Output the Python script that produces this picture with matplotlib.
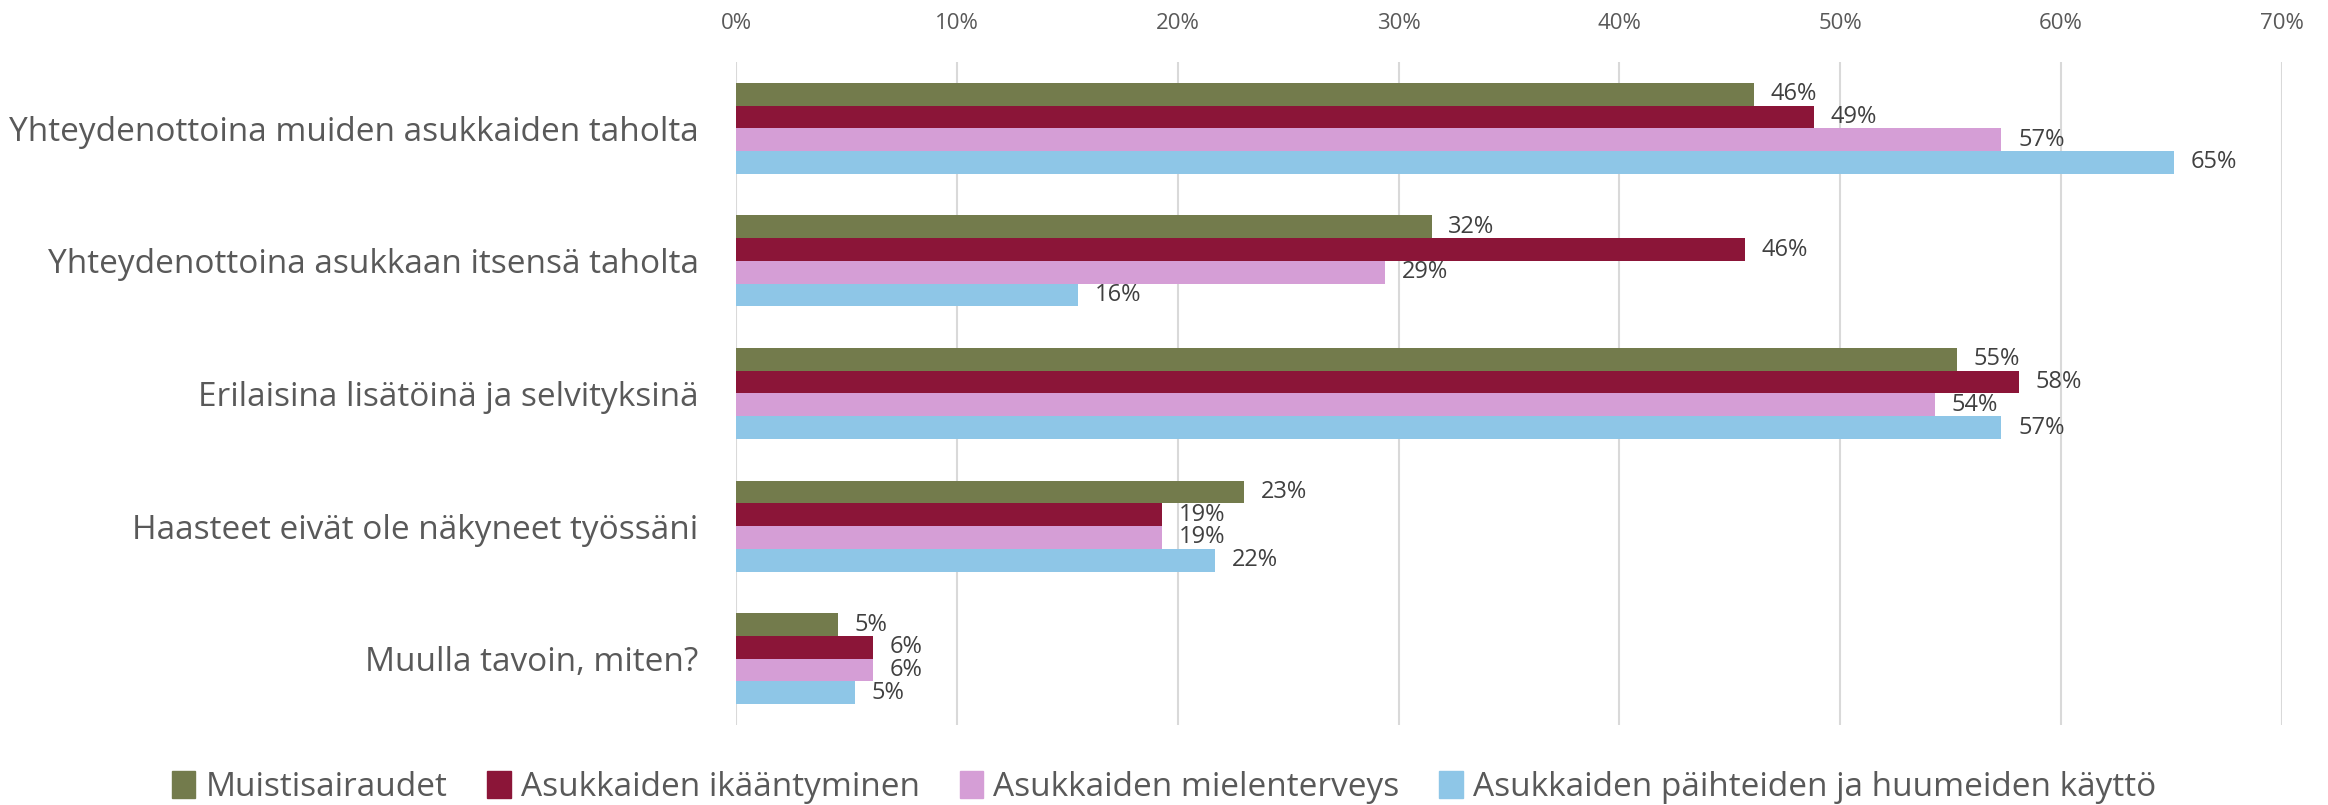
import numpy as np
import matplotlib
matplotlib.use("Agg")
import matplotlib.pyplot as plt
from matplotlib.patches import Patch

plt.rcParams['font.family'] = ['Open Sans', 'DejaVu Sans']

# Data (share of respondents, %)
categories = ['Yhteydenottoina muiden asukkaiden taholta',
              'Yhteydenottoina asukkaan itsensä taholta',
              'Erilaisina lisätöinä ja selvityksinä',
              'Haasteet eivät ole näkyneet työssäni',
              'Muulla tavoin, miten?']
series = ['Muistisairaudet', 'Asukkaiden ikääntyminen',
          'Asukkaiden mielenterveys', 'Asukkaiden päihteiden ja huumeiden käyttö']
muisti = [46.1, 31.5, 55.3, 23.0, 4.6]
ikaantyminen = [48.8, 45.7, 58.1, 19.3, 6.2]
mielenterveys = [57.3, 29.4, 54.3, 19.3, 6.2]
paihteet = [65.1, 15.5, 57.3, 21.7, 5.4]
values = [muisti, ikaantyminen, mielenterveys, paihteet]
xticks = [0, 10, 20, 30, 40, 50, 60, 70]

colors = ['#737B4C', '#8B1538', '#D59ED6', '#8EC6E7']
label_col = '#595959'
value_col = '#404040'

fig = plt.figure(figsize=(23.28, 8.05), dpi=100)
ax = fig.add_axes([0.3162, 0.0994, 0.6640, 0.8236])

ind = np.arange(len(categories))
h = 0.1716
for i, (vals, c, name) in enumerate(zip(values, colors, series)):
    pos = ind + (i - 1.5) * h
    ax.barh(pos, vals, height=h, color=c, label=name, zorder=3)
    for y, v in zip(pos, vals):
        ax.text(v + 0.75, y, '%d%%' % round(v), va='center', ha='left',
                fontsize=17, color=value_col)

ax.set_ylim(len(categories) - 0.5, -0.5)
ax.set_xlim(0, 70)
ax.set_xticks(xticks)
ax.set_xticklabels(['%d%%' % t for t in xticks], fontsize=16, color=label_col)
ax.xaxis.tick_top()
ax.tick_params(axis='x', length=0, pad=20)
ax.set_yticks(ind)
ax.set_yticklabels(categories, fontsize=24, color=label_col)
ax.tick_params(axis='y', length=0, pad=27)
ax.grid(axis='x', color='#D9D9D9', linewidth=1.5, zorder=0)
for s in ax.spines.values():
    s.set_visible(False)

handles = [Patch(color=c) for c in colors]
fig.legend(handles, series, loc='center', bbox_to_anchor=(0.5, 0.022),
           ncol=4, frameon=False, fontsize=24, labelcolor=label_col,
           handlelength=0.7, handleheight=0.9, handletextpad=0.3, columnspacing=1.2)

fig.savefig('out.png', dpi=100)
